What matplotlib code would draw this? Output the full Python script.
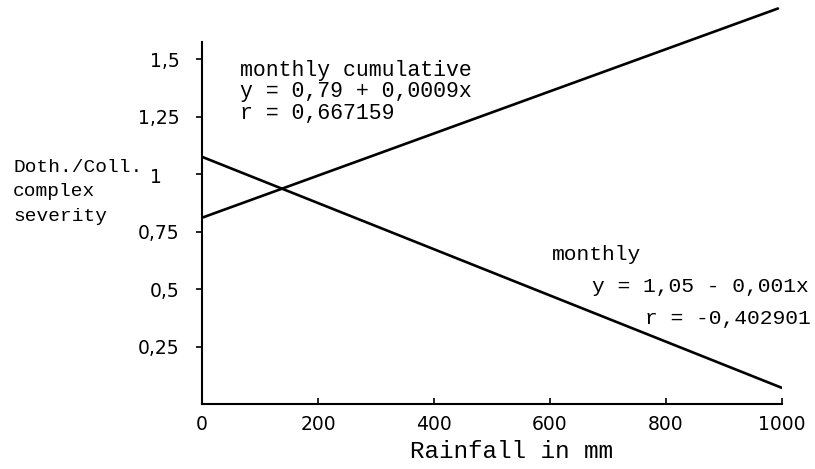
import matplotlib
matplotlib.use("Agg")
import matplotlib.pyplot as plt

# values
rain = [0, 1000]
rain_cum = [0, 993]
monthly = [1.075, 0.07]
cumulative = [0.81, 1.72]

xticks = [0, 200, 400, 600, 800, 1000]
yticks = [0.25, 0.5, 0.75, 1.0, 1.25, 1.5]
ytick_labels = ["0,25", "0,5", "0,75", "", "1,25", "1,5"]

mono = "Liberation Mono"

fig = plt.figure(figsize=(8.15, 4.69), dpi=100)
ax = fig.add_axes([202 / 815, 65 / 469, 580 / 815, 0.858])

ax.plot(rain_cum, cumulative, color="black", lw=1.9, solid_capstyle="round")
ax.plot(rain, monthly, color="black", lw=1.9, solid_capstyle="round")

ax.set_xlim(0, 1000)
ax.set_ylim(0, 1.75)
for s in ["top", "right"]:
    ax.spines[s].set_visible(False)
ax.spines["left"].set_bounds(0, 1.575)
ax.spines["left"].set_linewidth(1.5)
ax.spines["bottom"].set_linewidth(1.5)

ax.set_xticks(xticks)
ax.set_xticklabels([str(v) for v in xticks])
ax.set_yticks(yticks)
ax.set_yticklabels(ytick_labels)
ax.tick_params(axis="x", direction="in", length=4, width=1.2, pad=8,
               labelsize=13.5)
ax.tick_params(axis="y", direction="out", length=4, width=1.2, pad=12,
               labelsize=13.5)
# the "1" label sits lower and further left, next to the axis title
ax.text(-0.079, 1.0 - 0.013, "1", transform=ax.get_yaxis_transform(),
        ha="center", va="center", fontsize=13.5)

ax.set_xlabel("Rainfall in mm", family=mono, fontsize=17.5)
ax.xaxis.set_label_coords(0.534, -0.09)

# axis title on the left
for txt, ypix in [("Doth./Coll.", 168), ("complex", 192), ("severity", 216)]:
    fig.text(13 / 815, 1 - ypix / 469, txt, family=mono, fontsize=14,
             ha="left", va="center")

# regression annotations
ax.text(65, 1.452, "monthly cumulative", family=mono, fontsize=15.5, va="center")
ax.text(65, 1.357, "y = 0,79 + 0,0009x", family=mono, fontsize=15.5, va="center")
ax.text(65, 1.262, "r = 0,667159", family=mono, fontsize=15.5, va="center")

ax.text(603, 0.648, "monthly", family=mono, fontsize=15.3, va="center")
ax.text(672, 0.509, "y = 1,05 - 0,001x", family=mono, fontsize=15.3, va="center")
ax.text(764, 0.37, "r = -0,402901", family=mono, fontsize=15.3, va="center")

fig.savefig("out.png", dpi=100)
